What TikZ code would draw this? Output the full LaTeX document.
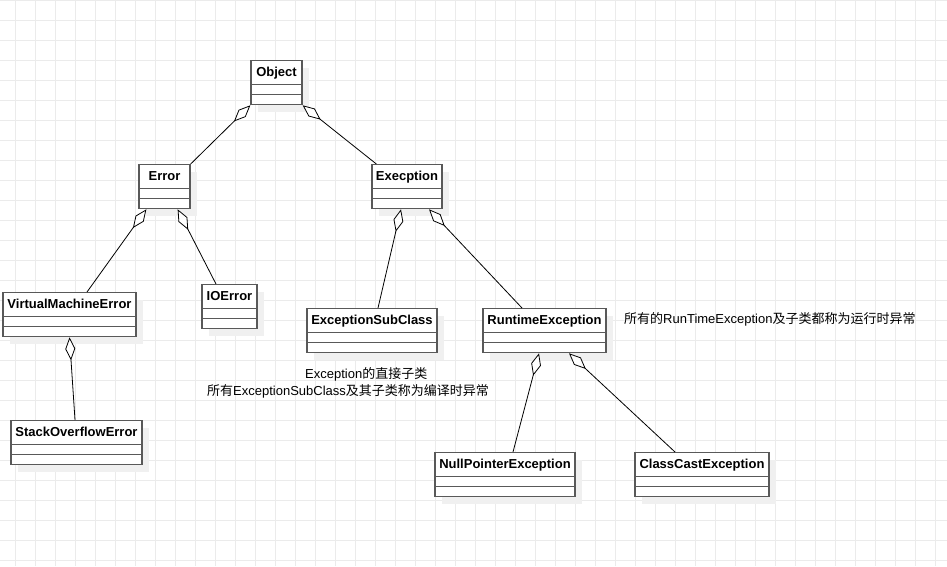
\documentclass[tikz,border=0pt]{standalone}
\usepackage{fontspec}
\setmainfont{Liberation Sans}
\newfontfamily\cjk{Noto Sans CJK SC}
\usetikzlibrary{arrows.meta,shadows}

\begin{document}
\begin{tikzpicture}[x=1pt,y=-1pt,font=\fontsize{13}{15}\selectfont,
  gridline/.style={black!8,line width=0.8pt},
  cls/.style={draw=black!65,line width=1.3pt,fill=white,anchor=north,
    inner xsep=0pt,inner ysep=0pt,text height=16pt,text depth=28pt,
    font=\fontsize{13}{15}\selectfont\bfseries,
    drop shadow={shadow xshift=7pt,shadow yshift=-7pt,fill=black!6,opacity=1}},
  sepline/.style={black!65,line width=1.3pt},
  agg/.style={{Diamond[fill=white,length=23pt,width=10pt]}-,line width=0.8pt},
  note/.style={anchor=west,inner sep=0pt}]
 % page and grid
 \useasboundingbox (0,0) rectangle (947,566);
 \fill[white] (0,0) rectangle (947,566);
 \foreach \gx in {15,35,...,935} {\draw[gridline] (\gx,0) -- (\gx,566);}
 \foreach \gy in {0,20,...,560} {\draw[gridline] (0,\gy) -- (947,\gy);}
 % classes
 \node[cls,minimum width=51pt] (obj) at (276.5,60) {Object};
 \node[cls,minimum width=51pt] (err) at (164.5,164) {Error};
 \node[cls,minimum width=70pt] (exc) at (407,164) {Execption};
 \node[cls,minimum width=133pt] (vme) at (69.5,292) {VirtualMachineError};
 \node[cls,minimum width=55pt] (ioe) at (229.5,284) {IOError};
 \node[cls,minimum width=130pt] (esc) at (372,308) {ExceptionSubClass};
 \node[cls,minimum width=123pt] (rte) at (544.5,308) {RuntimeException};
 \node[cls,minimum width=131pt] (soe) at (76.5,420) {StackOverflowError};
 \node[cls,minimum width=140pt] (npe) at (505,452) {NullPointerException};
 \node[cls,minimum width=134pt] (cce) at (702,452) {ClassCastException};
 \foreach \n in {obj,err,exc,vme,ioe,esc,rte,soe,npe,cce} {
   \foreach \d in {24.5,34.5} {
     \draw[sepline] ([yshift=-\d pt]\n.north west) -- ([yshift=-\d pt]\n.north east);}}
 % aggregations
 \draw[agg] (obj.south west) -- (err.north east);
 \draw[agg] (obj.south east) -- ([xshift=5pt]exc.north west);
 \draw[agg] ([xshift=8pt]err.south west) -- ([xshift=17.5pt]vme.north);
 \draw[agg] ([xshift=-13pt]err.south east) -- ([xshift=-13.5pt]ioe.north);
 \draw[agg] ([xshift=-6pt]exc.south) -- ([xshift=6pt]esc.north);
 \draw[agg] ([xshift=22pt]exc.south) -- ([xshift=-22.5pt]rte.north);
 \draw[agg] (vme.south) -- ([xshift=-1.5pt]soe.north);
 \draw[agg] ([xshift=-5.5pt]rte.south) -- ([xshift=8pt]npe.north);
 \draw[agg] ([xshift=24.5pt]rte.south) -- ([xshift=-27pt]cce.north);
 % notes
 \node[note] (escnote1) at (305,374) {Exception{\cjk 的直接子类}};
 \node[note] (escnote2) at (207,391) {{\cjk 所有}ExceptionSubClass{\cjk 及其子类称为编译时异常}};
 \node[note] (rtenote) at (624,319) {{\cjk 所有的}RunTimeException{\cjk 及子类都称为运行时异常}};
\end{tikzpicture}
\end{document}
